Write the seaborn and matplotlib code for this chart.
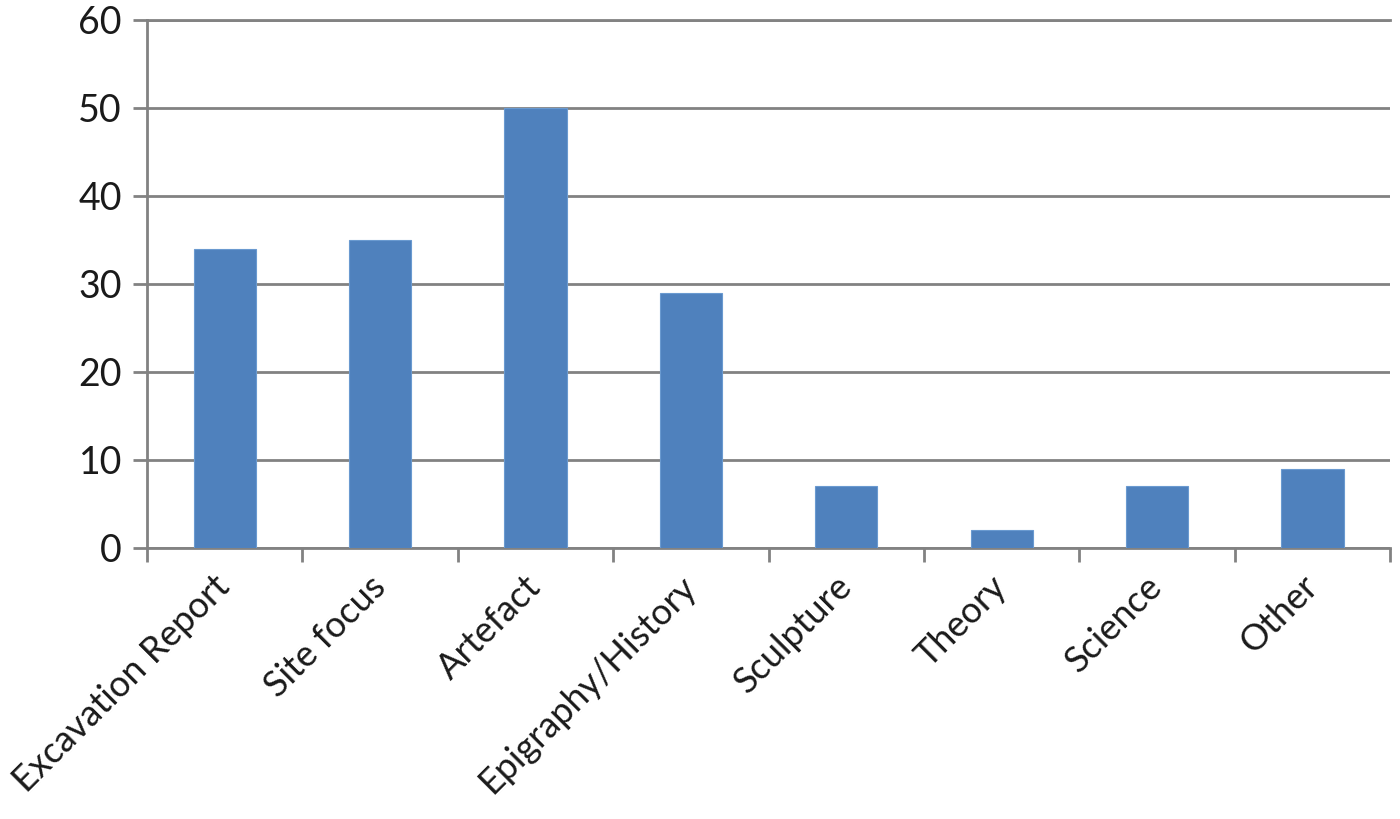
import matplotlib
matplotlib.use('Agg')
import matplotlib.pyplot as plt
import seaborn as sns
import numpy as np

categories = ['Excavation Report', 'Site focus', 'Artefact', 'Epigraphy/History',
              'Sculpture', 'Theory', 'Science', 'Other']
counts = [34, 35, 50, 29, 7, 2, 7, 9]
y_ticks = [0, 10, 20, 30, 40, 50, 60]

sns.set_style('white')
plt.rcParams['font.family'] = ['Lato', 'DejaVu Sans']

grid_col = '#828282'
fig = plt.figure(figsize=(14, 8.19), dpi=100)
ax = fig.add_axes([0.105, 0.331, 0.888, 0.645])

sns.barplot(x=categories, y=counts, color='#4F81BD', saturation=1, width=0.4,
            edgecolor='#6a9ad0', linewidth=0.8, ax=ax, zorder=3)

ax.set_ylim(0, 60)
ax.set_xlim(-0.5, len(categories) - 0.5)
ax.set_yticks(y_ticks)
ax.yaxis.grid(True, color=grid_col, linewidth=2, zorder=0)
ax.set_axisbelow(True)

for s in ['left', 'bottom', 'top']:
    ax.spines[s].set_color(grid_col)
    ax.spines[s].set_linewidth(2)
ax.spines['right'].set_visible(False)

# category boundary ticks
ax.set_xticks(np.arange(-0.5, len(categories), 1), minor=True)
ax.tick_params(axis='x', which='minor', bottom=True, length=10, width=2, color=grid_col)
ax.tick_params(axis='x', which='major', bottom=False, length=0, pad=24)
ax.tick_params(axis='y', left=True, length=10, width=2, color=grid_col, labelsize=27,
               pad=8, labelcolor='#1a1a1a')
ax.set_xticks(range(len(categories)))
ax.set_xticklabels(categories, rotation=45, ha='right', va='center',
                   rotation_mode='anchor', fontsize=26, color='#1a1a1a')
ax.set_xlabel('')
ax.set_ylabel('')

fig.savefig('out.png', dpi=100)
